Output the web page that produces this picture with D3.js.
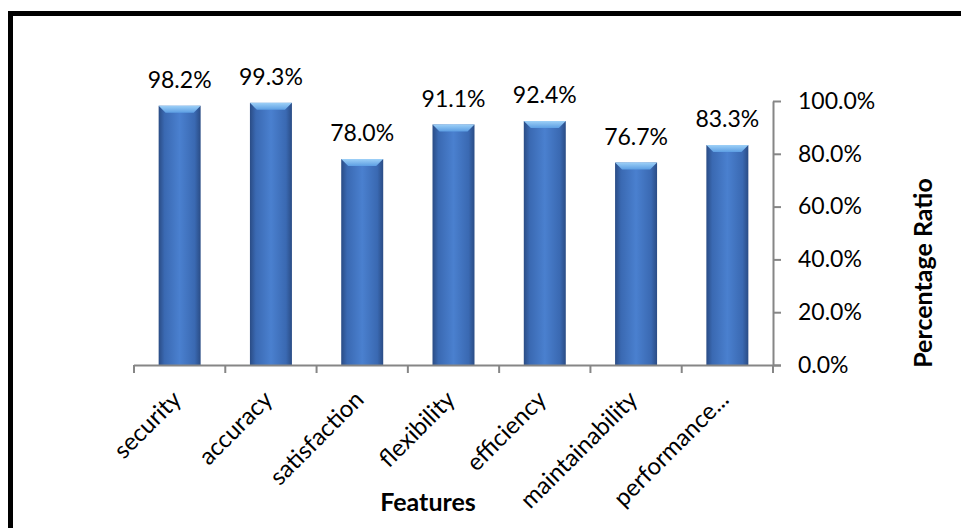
<!DOCTYPE html>
<html>
<head>
<meta charset="utf-8">
<script src="https://cdn.jsdelivr.net/npm/d3@7"></script>
<style>
  body { margin: 0; background: #fff; }
  text { font-family: Lato, "Open Sans", sans-serif; fill: #000; }
</style>
</head>
<body>
<div id="chart"></div>
<script>
// data
var features = ["security", "accuracy", "satisfaction", "flexibility", "efficiency", "maintainability", "performance..."];
var ratios = [98.2, 99.3, 78.0, 91.1, 92.4, 76.7, 83.3];
var yTicks = [0, 20, 40, 60, 80, 100];

var W = 961, H = 528;
var margin = {top: 101, right: 188, bottom: 163, left: 134},
    width = W - margin.left - margin.right,
    height = H - margin.top - margin.bottom;

var svg = d3.select("#chart")
    .append("svg")
    .attr("width", W)
    .attr("height", H);

// outer frame (only left and top edges show in the picture)
svg.append("rect")
    .attr("x", 10.5)
    .attr("y", 13.5)
    .attr("width", W + 20)
    .attr("height", H + 20)
    .style("fill", "none")
    .style("stroke", "#000")
    .style("stroke-width", 5);

// bar gradients
var defs = svg.append("defs");
var grad = defs.append("linearGradient")
    .attr("id", "barGrad")
    .attr("x1", "0%").attr("x2", "100%")
    .attr("y1", "0%").attr("y2", "0%");
grad.append("stop").attr("offset", "0%").attr("stop-color", "#2a4c85");
grad.append("stop").attr("offset", "14%").attr("stop-color", "#3a69b2");
grad.append("stop").attr("offset", "50%").attr("stop-color", "#4a80cf");
grad.append("stop").attr("offset", "86%").attr("stop-color", "#3a69b2");
grad.append("stop").attr("offset", "100%").attr("stop-color", "#2a4c85");

var topGrad = defs.append("linearGradient")
    .attr("id", "topGrad")
    .attr("x1", "0%").attr("x2", "0%")
    .attr("y1", "0%").attr("y2", "100%");
topGrad.append("stop").attr("offset", "0%").attr("stop-color", "#9dd0f7");
topGrad.append("stop").attr("offset", "100%").attr("stop-color", "#5c9ee3");

var g = svg.append("g")
    .attr("transform", "translate(" + margin.left + "," + margin.top + ")");

var x = d3.scaleBand()
    .domain(features)
    .range([0, width])
    .paddingInner(0.54)
    .paddingOuter(0.27);

var y = d3.scaleLinear()
    .domain([0, 100])
    .range([height, 0]);

// bars
var bars = g.selectAll(".bar")
    .data(features)
    .enter().append("g")
    .attr("class", "bar");

bars.append("rect")
    .attr("x", function(d) { return x(d); })
    .attr("y", function(d, i) { return y(ratios[i]); })
    .attr("width", x.bandwidth())
    .attr("height", function(d, i) { return height - y(ratios[i]); })
    .style("fill", "url(#barGrad)");

// bevelled top of each bar
bars.append("path")
    .attr("d", function(d, i) {
        var x0 = x(d), x1 = x(d) + x.bandwidth(), t = y(ratios[i]), b = 7;
        return "M" + x0 + "," + t + "L" + x1 + "," + t +
               "L" + (x1 - b) + "," + (t + b) + "L" + (x0 + b) + "," + (t + b) + "Z";
    })
    .style("fill", "url(#topGrad)");

// value labels
g.selectAll(".value-label")
    .data(features)
    .enter().append("text")
    .attr("class", "value-label")
    .attr("text-anchor", "middle")
    .attr("x", function(d) { return x(d) + x.bandwidth() / 2; })
    .attr("y", function(d, i) { return y(ratios[i]) - 18; })
    .style("font-size", "23px")
    .text(function(d, i) { return ratios[i].toFixed(1) + "%"; });

// x axis
var xAxis = g.append("g")
    .attr("transform", "translate(0," + height + ")")
    .call(d3.axisBottom(x).tickSize(0).tickSizeOuter(0).tickFormat(""));
xAxis.select(".domain").attr("d", "M0,0.5H" + (width + 8)).style("stroke", "#868686").style("stroke-width", 2);

// category boundary ticks
var step = x.step();
g.selectAll(".xtick")
    .data(d3.range(features.length + 1))
    .enter().append("line")
    .attr("class", "xtick")
    .attr("x1", function(i) { return i * step; })
    .attr("x2", function(i) { return i * step; })
    .attr("y1", height)
    .attr("y2", height + 8)
    .style("stroke", "#868686")
    .style("stroke-width", 2);

// category labels, rotated
g.selectAll(".cat-label")
    .data(features)
    .enter().append("text")
    .attr("class", "cat-label")
    .attr("text-anchor", "end")
    .attr("transform", function(d) {
        return "translate(" + (x(d) + x.bandwidth() / 2 + 3) + "," + (height + 36) + ") rotate(-45)";
    })
    .style("font-size", "24px")
    .text(function(d) { return d; });

// y axis on the right
var yAxis = g.append("g")
    .attr("transform", "translate(" + width + ",0)")
    .call(d3.axisRight(y).tickValues(yTicks).tickSize(8).tickSizeOuter(0)
        .tickFormat(function(d) { return d.toFixed(1) + "%"; }));
yAxis.select(".domain").style("stroke", "#868686").style("stroke-width", 2);
yAxis.selectAll(".tick line").style("stroke", "#868686").style("stroke-width", 2);
yAxis.selectAll(".tick text")
    .attr("x", 25)
    .style("font-size", "23px")
    .style("font-family", "Lato, sans-serif")
    .style("fill", "#000");

// axis titles
svg.append("text")
    .attr("text-anchor", "middle")
    .attr("x", 428)
    .attr("y", 511)
    .style("font-size", "25px")
    .style("font-weight", "bold")
    .text("Features");

svg.append("text")
    .attr("text-anchor", "middle")
    .attr("transform", "translate(932,273) rotate(-90)")
    .style("font-size", "25px")
    .style("font-weight", "bold")
    .text("Percentage Ratio");
</script>
</body>
</html>
